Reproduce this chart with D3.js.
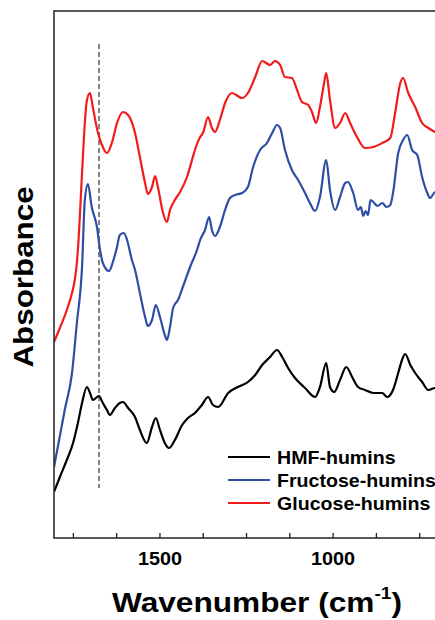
<!DOCTYPE html>
<meta charset="utf-8">
<script src="https://cdn.jsdelivr.net/npm/d3@7"></script>
<style>
body {margin: 0; background: #fff;}
text {font-family: Arial, "Liberation Sans", sans-serif; font-weight: bold;}
</style>
<div id="vis"></div>
<script>
// wavenumber (cm-1) / absorbance (a.u., offset curves)
var hmfWave = [1806,1789,1769,1751,1737,1725,1711,1702,1694,1676,1665,1653,1645,1630,1616,1607,1592,1572,1558,1538,1523,1512,1500,1486,1474,1457,1436,1419,1399,1379,1361,1347,1332,1303,1275,1246,1225,1205,1182,1162,1147,1130,1110,1081,1052,1038,1020,1009,997,980,962,945,928,908,884,858,844,827,812,801,792,777,763,743,725,705,695];
var hmfAbs  = [0.46,0.61,0.78,0.95,1.15,1.35,1.51,1.45,1.38,1.42,1.35,1.28,1.23,1.30,1.35,1.36,1.30,1.21,1.08,0.95,1.11,1.20,1.08,0.95,0.90,0.98,1.13,1.20,1.25,1.33,1.41,1.33,1.31,1.45,1.51,1.56,1.63,1.73,1.81,1.88,1.81,1.70,1.60,1.50,1.41,1.51,1.75,1.51,1.46,1.58,1.71,1.61,1.51,1.48,1.45,1.45,1.41,1.48,1.65,1.78,1.84,1.73,1.65,1.56,1.48,1.50,1.50];

var fruWave = [1806,1795,1775,1754,1740,1725,1717,1708,1697,1682,1673,1665,1647,1636,1624,1616,1604,1595,1581,1572,1558,1543,1535,1523,1512,1500,1486,1480,1471,1462,1448,1434,1413,1393,1384,1370,1358,1350,1341,1327,1312,1298,1283,1263,1246,1231,1211,1191,1176,1162,1153,1139,1119,1101,1081,1067,1052,1038,1020,1009,994,980,965,957,942,928,920,913,906,899,892,884,872,858,846,835,827,812,798,786,772,757,743,728,720,705,695];
var fruAbs  = [0.71,0.91,1.28,1.65,2.15,2.71,3.38,3.54,3.31,3.11,2.88,2.75,2.67,2.76,2.91,3.03,3.05,2.98,2.78,2.68,2.45,2.21,2.12,2.18,2.33,2.21,2.03,1.98,2.11,2.30,2.38,2.51,2.71,2.88,2.98,3.08,3.21,3.08,3.02,3.11,3.28,3.40,3.43,3.45,3.51,3.71,3.88,3.95,4.05,4.13,4.10,3.88,3.68,3.58,3.45,3.35,3.27,3.41,3.78,3.48,3.28,3.41,3.55,3.56,3.45,3.28,3.31,3.22,3.27,3.23,3.38,3.36,3.32,3.35,3.31,3.33,3.45,3.85,3.98,4.03,3.88,3.83,3.61,3.45,3.40,3.46,3.46];

var gluWave = [1806,1789,1769,1754,1746,1740,1737,1725,1717,1711,1702,1694,1679,1665,1653,1639,1624,1607,1592,1572,1558,1543,1535,1523,1514,1506,1491,1480,1471,1457,1442,1422,1405,1399,1384,1376,1361,1350,1341,1327,1312,1292,1263,1246,1225,1205,1182,1168,1153,1139,1119,1104,1090,1072,1061,1049,1038,1027,1020,1009,994,980,965,951,931,908,884,858,835,821,806,798,783,763,743,725,705,695];
var gluAbs  = [1.96,2.10,2.28,2.45,2.58,2.75,2.88,3.65,4.15,4.38,4.45,4.31,4.05,3.91,3.85,3.95,4.15,4.26,4.23,4.05,3.81,3.55,3.44,3.51,3.62,3.51,3.25,3.16,3.28,3.38,3.46,3.61,3.81,3.88,4.01,4.05,4.21,4.10,4.06,4.18,4.35,4.45,4.40,4.45,4.61,4.77,4.73,4.77,4.73,4.61,4.60,4.48,4.36,4.33,4.26,4.15,4.31,4.53,4.65,4.38,4.10,4.15,4.25,4.15,4.01,3.90,3.91,3.95,4.00,4.25,4.55,4.60,4.45,4.31,4.15,4.10,4.06,4.05];

var seriesNames = ["HMF-humins", "Fructose-humins", "Glucose-humins"];
var seriesColors = ["#000000", "#2e4ea3", "#f01c1c"];
var xTicks = [1500, 1000];
var xMinorTicks = [1750, 1625, 1500, 1375, 1250, 1125, 1000, 875, 750];
var markerWave = 1676;

var width = 435, height = 620;
var mLeft = 54, mTop = 11, mBottom = 538, mRight = 437;

var svg = d3.select("#vis").append("svg")
    .attr("width", width)
    .attr("height", height);

var x = d3.scaleLinear().domain([1806, 700]).range([mLeft, mRight]);
var y = d3.scaleLinear().domain([0, 5.27]).range([mBottom, mTop]);

svg.append("clipPath").attr("id", "clip")
  .append("rect")
    .attr("x", mLeft).attr("y", mTop)
    .attr("width", mRight - mLeft).attr("height", mBottom - mTop);

var series = [
  {name: seriesNames[0], color: seriesColors[0], w: hmfWave, a: hmfAbs},
  {name: seriesNames[1], color: seriesColors[1], w: fruWave, a: fruAbs},
  {name: seriesNames[2], color: seriesColors[2], w: gluWave, a: gluAbs}
];

var line = d3.line()
    .x(function(d) { return x(d[0]); })
    .y(function(d) { return y(d[1]); })
    .curve(d3.curveMonotoneX);

var plot = svg.append("g").attr("clip-path", "url(#clip)");

// dashed marker
plot.append("line")
    .attr("x1", x(markerWave)).attr("x2", x(markerWave))
    .attr("y1", 44).attr("y2", 488)
    .attr("stroke", "#333")
    .attr("stroke-width", 1.2)
    .attr("stroke-dasharray", "5,3");

series.forEach(function(s) {
  var pts = s.w.map(function(w, i) { return [w, s.a[i]]; });
  plot.append("path")
      .datum(pts)
      .attr("fill", "none")
      .attr("stroke", s.color)
      .attr("stroke-width", 2.2)
      .attr("stroke-linejoin", "round")
      .attr("d", line);
});

// frame
svg.append("rect")
    .attr("x", mLeft).attr("y", mTop)
    .attr("width", mRight - mLeft).attr("height", mBottom - mTop)
    .attr("fill", "none")
    .attr("stroke", "#222")
    .attr("stroke-width", 1.5);

// x axis ticks (inward)
svg.selectAll(".minor").data(xMinorTicks).enter().append("line")
    .attr("x1", function(d) { return x(d); })
    .attr("x2", function(d) { return x(d); })
    .attr("y1", mBottom).attr("y2", mBottom - 5)
    .attr("stroke", "#222")
    .attr("stroke-width", 1.3);

svg.selectAll(".tlabel").data(xTicks).enter().append("text")
    .attr("transform", function(d) { return "translate(" + x(d) + ",565) scale(1.1,1)"; })
    .attr("text-anchor", "middle")
    .attr("font-size", 18)
    .text(function(d) { return d; });

// axis titles
var xt = svg.append("text")
    .attr("transform", "translate(257,612) scale(1.13,1)")
    .attr("text-anchor", "middle")
    .attr("font-size", 28);
xt.append("tspan").text("Wavenumber (cm");
xt.append("tspan").attr("font-size", 17).attr("dy", -13).text("-1");
xt.append("tspan").attr("dy", 13).text(")");

svg.append("text")
    .attr("transform", "translate(33,277) rotate(-90) scale(1.12,1)")
    .attr("text-anchor", "middle")
    .attr("font-size", 28)
    .text("Absorbance");

// legend
var legend = svg.selectAll(".leg").data(series).enter().append("g")
    .attr("transform", function(d, i) { return "translate(228," + (457 + i * 23) + ")"; });
legend.append("line")
    .attr("x1", 0).attr("x2", 42)
    .attr("stroke", function(d) { return d.color; })
    .attr("stroke-width", 2.2);
legend.append("text")
    .attr("transform", "translate(49,6.5) scale(1.12,1)")
    .attr("font-size", 17.5)
    .text(function(d) { return d.name; });
</script>
